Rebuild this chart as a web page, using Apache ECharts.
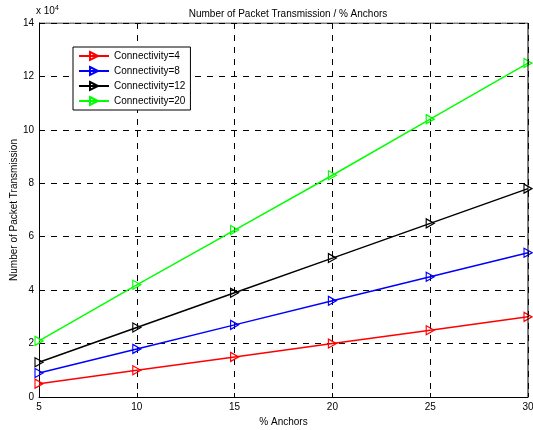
<!DOCTYPE html>
<html><head><meta charset="utf-8">
<script src="https://cdn.jsdelivr.net/npm/echarts@6/dist/echarts.min.js"></script>
<style>html,body{margin:0;padding:0;background:#fff}#c{width:533px;height:430px}</style>
</head><body><div id="c"></div>
<script>
const anchors = [5, 10, 15, 20, 25, 30];
const conn4 = [5000, 10000, 15000, 20000, 25000, 30000];
const conn8 = [9000, 18000, 27000, 36000, 45000, 54000];
const conn12 = [13000, 26000, 39000, 52000, 65000, 78000];
const conn20 = [21000, 42000, 62500, 83000, 104000, 125000];
const seriesNames = ['Connectivity=4', 'Connectivity=8', 'Connectivity=12', 'Connectivity=20'];
const seriesColors = ['#ff0000', '#0000ff', '#000000', '#00ff00'];
const seriesData = [conn4, conn8, conn12, conn20];
const yTicks = [0, 20000, 40000, 60000, 80000, 100000, 120000, 140000];

const font = 'Liberation Sans, Arial, sans-serif';
const tri = 'path://M0,0 L10,5 L0,10 Z';
const chart = echarts.init(document.getElementById('c'), null, {renderer: 'canvas'});
chart.setOption({
  animation: false,
  textStyle: {fontFamily: font},
  title: {text: 'Number of Packet Transmission / % Anchors', left: 283, textAlign: 'center', top: 4,
    textStyle: {fontSize: 10, fontWeight: 'normal', color: '#000', fontFamily: font}},
  graphic: [{type: 'text', left: 36, top: 5, style: {rich: {a: {fontSize: 10, fill: '#000', fontFamily: font}, s: {fontSize: 7, fill: '#000', verticalAlign: 'top', fontFamily: font, padding:[0,0,6,0]}}, text: '{a|x 10}{s|4}'}}],
  legend: {orient: 'vertical', left: 73, top: 47, width: 117, padding: [4, 5, 4, 5], itemGap: 5,
    itemWidth: 30, itemHeight: 10, borderColor: '#000', borderWidth: 1, backgroundColor: '#fff',
    textStyle: {fontSize: 10, color: '#000', fontFamily: font}, data: seriesNames},
  grid: {left: 39, right: 5, top: 23, bottom: 33, show: false, outerBoundsMode: 'none', containLabel: false},
  xAxis: {type: 'value', min: 5, max: 30, interval: 5, name: '% Anchors', nameLocation: 'middle', nameGap: 14,
    nameTextStyle: {fontSize: 10, color: '#000'},
    axisLine: {show: true, onZero: false, lineStyle: {color: '#000', width: 1}},
    axisTick: {inside: true, length: 4, lineStyle: {color: '#000'}},
    axisLabel: {fontSize: 10, color: '#000', margin: 5},
    splitLine: {show: true, lineStyle: {color: '#000', type: [6, 6], width: 1}}},
  yAxis: {type: 'value', min: 0, max: 140000, interval: 20000, name: 'Number of Packet Transmission', nameLocation: 'middle', nameGap: 20, nameMoveOverlap: false,
    nameTextStyle: {fontSize: 10, color: '#000'},
    axisLine: {show: true, onZero: false, lineStyle: {color: '#000', width: 1}},
    axisTick: {inside: true, length: 4, lineStyle: {color: '#000'}},
    axisLabel: {fontSize: 10, color: '#000', margin: 5, formatter: v => String(v / 10000)},
    splitLine: {show: true, lineStyle: {color: '#000', type: [6, 6], width: 1}}},
  series: seriesNames.map((n, i) => ({
    name: n, type: 'line', data: anchors.map((a, j) => [a, seriesData[i][j]]),
    symbol: tri, symbolSize: [8, 9], showAllSymbol: true,
    lineStyle: {color: seriesColors[i], width: 1.5},
    itemStyle: {color: 'rgba(255,255,255,0)', borderColor: seriesColors[i], borderWidth: 1.2},
    z: 3 + i
  })).concat([{
    type: 'line', data: [[30, 0], [30, 140000]], symbol: 'none', silent: true,
    lineStyle: {color: '#000', width: 1}, z: 10
  }, {
    type: 'line', data: [[5, 140000], [30, 140000]], symbol: 'none', silent: true,
    lineStyle: {color: '#000', width: 1}, z: 10
  }])
});
</script></body></html>
